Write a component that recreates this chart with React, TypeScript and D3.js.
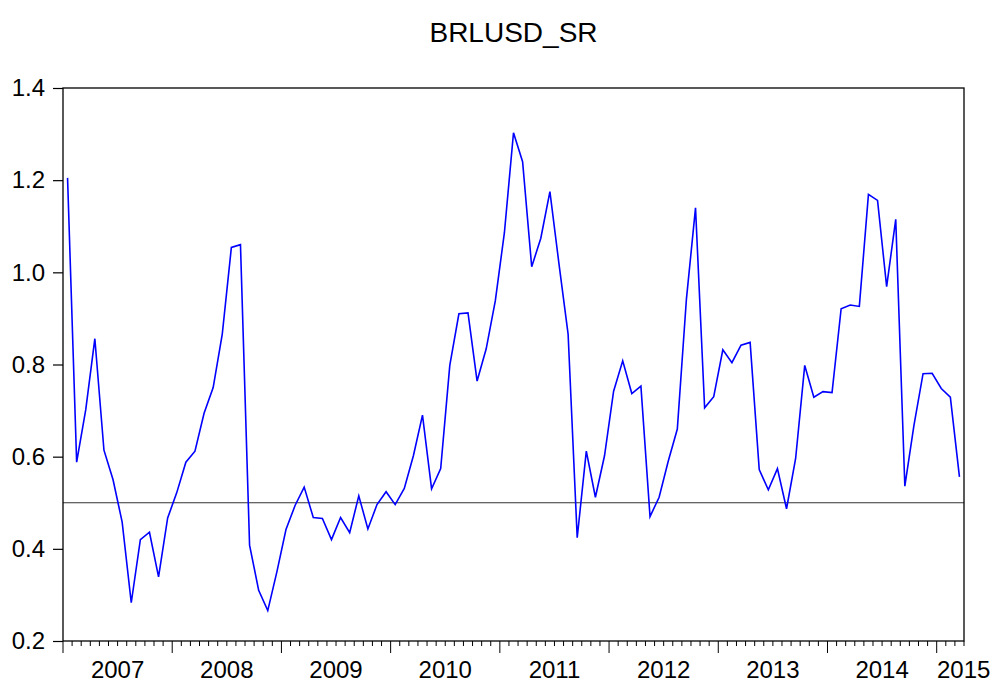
import React, { useRef, useEffect } from 'react';
import * as d3 from 'd3';

// monthly values, Jan 2007 .. Mar 2015
const v2007 = [1.205, 0.588, 0.702, 0.856, 0.614, 0.55, 0.458, 0.283, 0.42, 0.436, 0.339, 0.467];
const v2008 = [0.522, 0.588, 0.612, 0.694, 0.75, 0.866, 1.054, 1.06, 0.408, 0.31, 0.266, 0.35];
const v2009 = [0.442, 0.494, 0.534, 0.468, 0.466, 0.42, 0.468, 0.435, 0.515, 0.443, 0.496, 0.524];
const v2010 = [0.496, 0.531, 0.602, 0.69, 0.53, 0.574, 0.798, 0.91, 0.912, 0.764, 0.834, 0.938];
const v2011 = [1.086, 1.303, 1.24, 1.012, 1.074, 1.175, 1.018, 0.866, 0.424, 0.612, 0.512, 0.602];
const v2012 = [0.742, 0.808, 0.737, 0.753, 0.47, 0.512, 0.59, 0.66, 0.942, 1.14, 0.706, 0.73];
const v2013 = [0.832, 0.804, 0.842, 0.848, 0.572, 0.528, 0.574, 0.487, 0.596, 0.798, 0.729, 0.741];
const v2014 = [0.739, 0.921, 0.929, 0.926, 1.169, 1.156, 0.969, 1.115, 0.536, 0.668, 0.78, 0.781];
const v2015 = [0.748, 0.729, 0.556];

const years = ['2007', '2008', '2009', '2010', '2011', '2012', '2013', '2014', '2015'];
const yTicks = [0.2, 0.4, 0.6, 0.8, 1.0, 1.2, 1.4];
const refLine = 0.5;
const title = 'BRLUSD_SR';

const values = [...v2007, ...v2008, ...v2009, ...v2010, ...v2011, ...v2012, ...v2013, ...v2014, ...v2015];

export default function App() {
  const svgRef = useRef<SVGSVGElement | null>(null);

  useEffect(() => {
    const W = 993;
    const H = 682;
    const margin = { top: 88, right: 29, bottom: 41, left: 63 };
    const width = W - margin.left - margin.right;
    const height = H - margin.top - margin.bottom;
    const font = '"Liberation Sans", Arial, sans-serif';

    const svg = d3.select(svgRef.current).attr('width', W).attr('height', H);
    svg.selectAll('*').remove();
    svg.append('rect').attr('width', W).attr('height', H).attr('fill', '#fff');

    const g = svg.append('g').attr('transform', `translate(${margin.left},${margin.top})`);

    const n = values.length;
    const x = d3.scaleLinear().domain([0, n]).range([0, width]);
    const y = d3.scaleLinear().domain([0.2, 1.4]).range([height, 0]);

    // title
    svg.append('text')
      .attr('x', margin.left + width / 2)
      .attr('y', 42)
      .attr('text-anchor', 'middle')
      .style('font-family', font)
      .style('font-size', '28px')
      .attr('fill', '#000')
      .text(title);

    // reference line
    g.append('line')
      .attr('x1', 0).attr('x2', width)
      .attr('y1', y(refLine)).attr('y2', y(refLine))
      .attr('stroke', '#333').attr('stroke-width', 1);

    // series
    const line = d3.line<number>()
      .x((_, i) => x(i + 0.5))
      .y(d => y(d));
    g.append('path')
      .datum(values)
      .attr('d', line)
      .attr('fill', 'none')
      .attr('stroke', '#0000ff')
      .attr('stroke-width', 1.6)
      .attr('stroke-linejoin', 'miter');

    // frame
    g.append('rect')
      .attr('x', 0).attr('y', 0)
      .attr('width', width).attr('height', height)
      .attr('fill', 'none')
      .attr('stroke', '#000')
      .attr('stroke-width', 1.3);

    // y axis
    const yAxis = g.append('g')
      .call(d3.axisLeft(y).tickValues(yTicks).tickSize(10).tickPadding(8).tickFormat(d3.format('.1f')));
    yAxis.select('.domain').remove();
    yAxis.selectAll('line').attr('stroke', '#000').attr('stroke-width', 1.2);
    yAxis.selectAll('text')
      .style('font-family', font)
      .style('font-size', '24px')
      .attr('fill', '#000');

    // x axis: month ticks, year ticks longer
    const months = d3.range(n + 1);
    const xAxis = g.append('g').attr('transform', `translate(0,${height})`);
    xAxis.selectAll('line')
      .data(months)
      .enter().append('line')
      .attr('x1', d => x(d)).attr('x2', d => x(d))
      .attr('y1', 0)
      .attr('y2', d => (d % 12 === 0 ? 12 : 5))
      .attr('stroke', '#000')
      .attr('stroke-width', 1);

    xAxis.selectAll('text')
      .data(years)
      .enter().append('text')
      .attr('x', (d, i) => {
        const start = i * 12;
        const end = Math.min(start + 12, n);
        return i === years.length - 1 ? x(start) + 27 : (x(start) + x(end)) / 2;
      })
      .attr('y', 37)
      .attr('text-anchor', 'middle')
      .style('font-family', font)
      .style('font-size', '24px')
      .attr('fill', '#000')
      .text(d => d);
  }, []);

  return (
    <div style={{ position: 'absolute', left: 0, top: 0, width: 993, height: 682 }}>
      <svg ref={svgRef} />
    </div>
  );
}
